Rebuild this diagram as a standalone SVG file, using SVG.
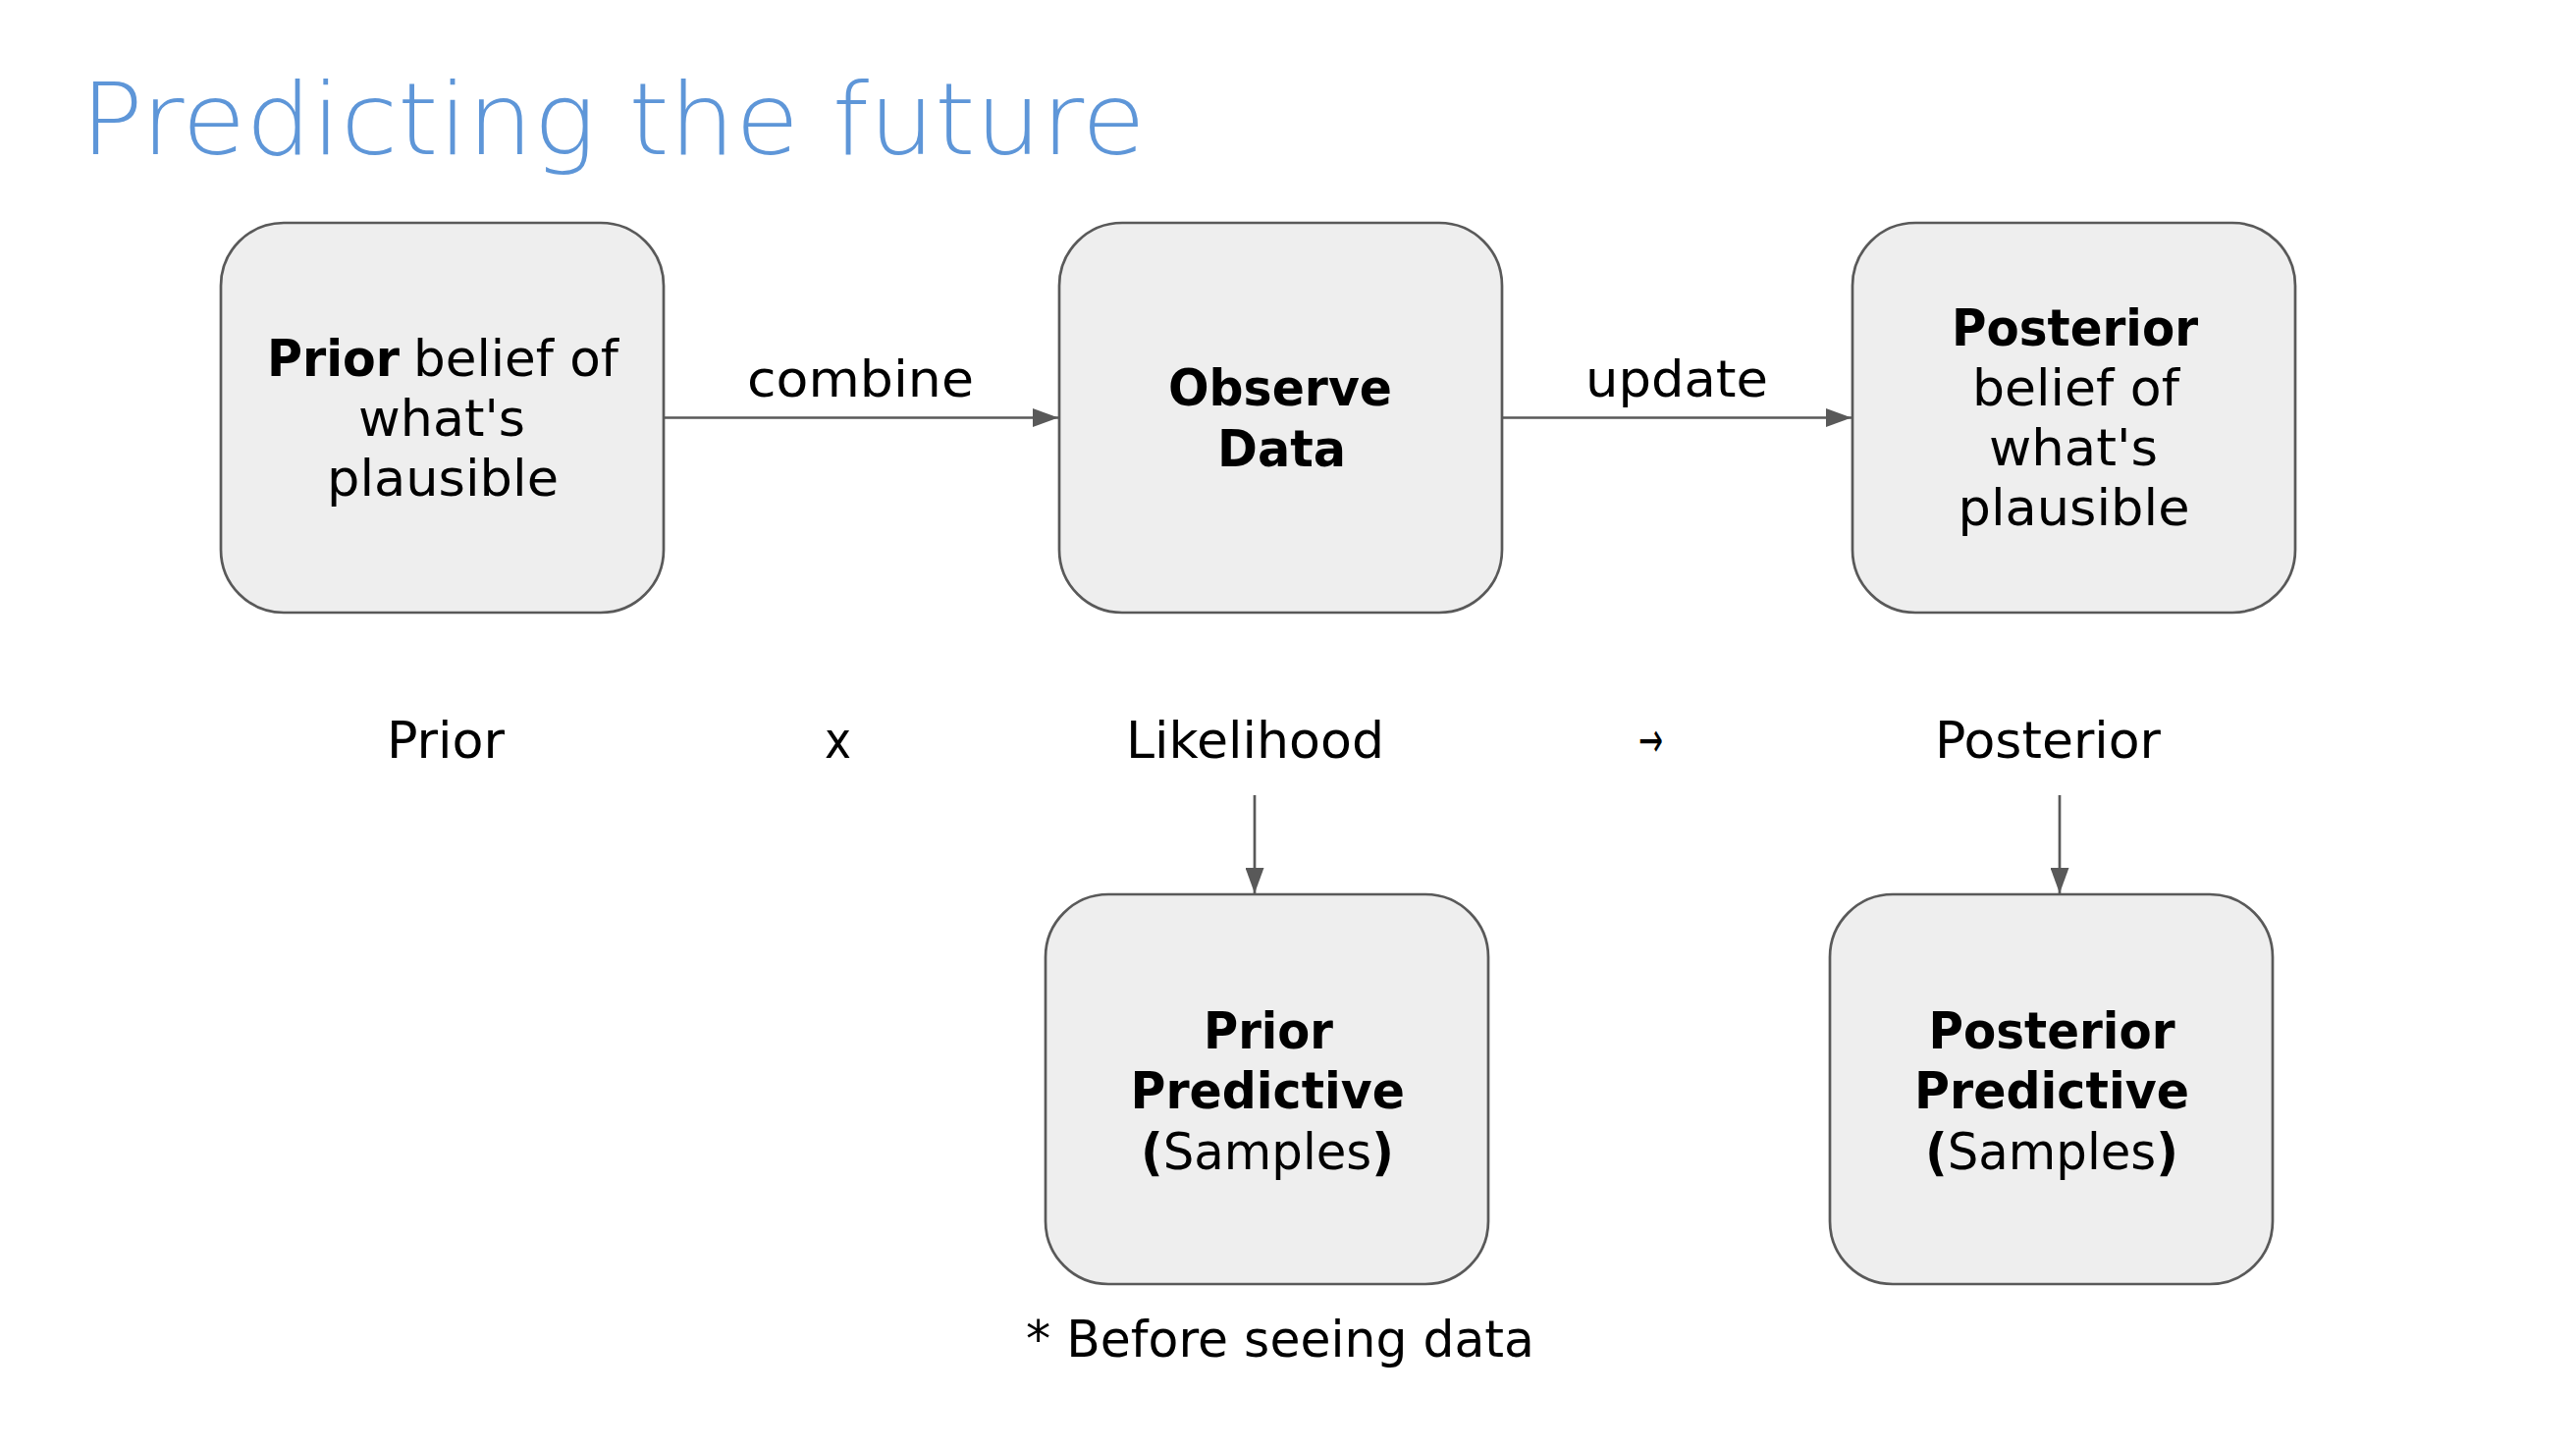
<svg xmlns="http://www.w3.org/2000/svg" width="2624" height="1476" viewBox="0 0 2624 1476">
<style>
  .box { fill: #eeeeee; stroke: #595959; stroke-width: 2.7; }
  .conn { fill: none; stroke: #595959; stroke-width: 2.7; }
  text { font-family: "DejaVu Sans", "Liberation Sans", sans-serif; fill: #000000; }
  .t { font-size: 51px; font-weight: normal; }
  .b { font-size: 51px; font-weight: bold; }
  .bs { font-weight: bold; }
  .title { font-size: 101px; font-weight: 200; fill: #5e96d8; }
</style>
<defs>
  <marker id="ah" markerUnits="userSpaceOnUse" markerWidth="26" markerHeight="19" refX="26" refY="9.5" orient="auto">
    <path d="M0,0 L26,9.5 L0,19 Z" fill="#595959"/>
  </marker>
</defs>
<rect width="2624" height="1476" fill="#ffffff"/>

<text class="title" x="82" y="157" textLength="1085" lengthAdjust="spacingAndGlyphs">Predicting the future</text>

<g id="connectors">
  <path class="conn" d="M676,425.5 H1078" marker-end="url(#ah)"/>
  <path class="conn" d="M1530,425.5 H1886" marker-end="url(#ah)"/>
  <path class="conn" d="M1278,810 V910" marker-end="url(#ah)"/>
  <path class="conn" d="M2098,810 V910" marker-end="url(#ah)"/>
  <text class="t" x="761" y="404" textLength="231" lengthAdjust="spacingAndGlyphs">combine</text>
  <text class="t" x="1615" y="404" textLength="186" lengthAdjust="spacingAndGlyphs">update</text>
</g>

<g id="node-prior">
  <rect class="box" x="225" y="227" width="451" height="397" rx="64" ry="64"/>
  <text class="b" x="272" y="383" textLength="135" lengthAdjust="spacingAndGlyphs">Prior</text>
  <text class="t" x="421" y="383" textLength="209" lengthAdjust="spacingAndGlyphs">belief of</text>
  <text class="t" x="365" y="444" textLength="170" lengthAdjust="spacingAndGlyphs">what's</text>
  <text class="t" x="333" y="505" textLength="236" lengthAdjust="spacingAndGlyphs">plausible</text>
</g>

<g id="node-observe">
  <rect class="box" x="1079" y="227" width="451" height="397" rx="64" ry="64"/>
  <text class="b" x="1190" y="413" textLength="228" lengthAdjust="spacingAndGlyphs">Observe</text>
  <text class="b" x="1240" y="475" textLength="131" lengthAdjust="spacingAndGlyphs">Data</text>
</g>

<g id="node-posterior">
  <rect class="box" x="1887" y="227" width="451" height="397" rx="64" ry="64"/>
  <text class="b" x="1988" y="352" textLength="251" lengthAdjust="spacingAndGlyphs">Posterior</text>
  <text class="t" x="2009" y="413" textLength="211" lengthAdjust="spacingAndGlyphs">belief of</text>
  <text class="t" x="2026" y="474" textLength="172" lengthAdjust="spacingAndGlyphs">what's</text>
  <text class="t" x="1994.5" y="535" textLength="236" lengthAdjust="spacingAndGlyphs">plausible</text>
</g>

<g id="node-prior-predictive">
  <rect class="box" x="1065" y="911" width="451" height="397" rx="64" ry="64"/>
  <text class="b" x="1226" y="1068" textLength="132" lengthAdjust="spacingAndGlyphs">Prior</text>
  <text class="b" x="1151.5" y="1129" textLength="279.5" lengthAdjust="spacingAndGlyphs">Predictive</text>
  <text class="t" x="1162" y="1191" textLength="258" lengthAdjust="spacingAndGlyphs"><tspan class="bs">(</tspan>Samples<tspan class="bs">)</tspan></text>
</g>

<g id="node-posterior-predictive">
  <rect class="box" x="1864" y="911" width="451" height="397" rx="64" ry="64"/>
  <text class="b" x="1964.5" y="1068" textLength="251" lengthAdjust="spacingAndGlyphs">Posterior</text>
  <text class="b" x="1950" y="1129" textLength="280" lengthAdjust="spacingAndGlyphs">Predictive</text>
  <text class="t" x="1961" y="1191" textLength="258" lengthAdjust="spacingAndGlyphs"><tspan class="bs">(</tspan>Samples<tspan class="bs">)</tspan></text>
</g>

<g id="equation">
  <text class="t" x="394" y="772" textLength="120" lengthAdjust="spacingAndGlyphs">Prior</text>
  <text class="t" x="840" y="772" textLength="27" lengthAdjust="spacingAndGlyphs">x</text>
  <text class="t" x="1147" y="772" textLength="263" lengthAdjust="spacingAndGlyphs">Likelihood</text>
  <text x="1669" y="771" font-size="50" textLength="25" lengthAdjust="spacingAndGlyphs">→</text>
  <text class="t" x="1971" y="772" textLength="230" lengthAdjust="spacingAndGlyphs">Posterior</text>
</g>

<text class="t" x="1045" y="1382" textLength="518" lengthAdjust="spacingAndGlyphs">* Before seeing data</text>
</svg>
